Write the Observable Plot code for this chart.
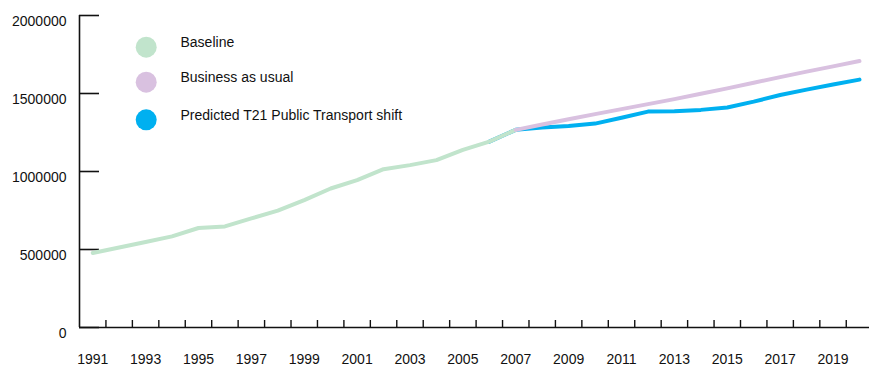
<!DOCTYPE html>
<html><head><meta charset="utf-8">
<script src="https://cdn.jsdelivr.net/npm/d3@7"></script>
<script src="https://cdn.jsdelivr.net/npm/@observablehq/plot@0.6"></script>
<style>body{margin:0;background:#fff}</style>
</head><body><div id="chart"></div>
<script>
const baselineYears = d3.range(1991, 2008);
const baselineValues = [478000, 513000, 548000, 584000, 638000, 648000, 699000, 749000, 817000, 891000, 945000, 1015000, 1041000, 1073000, 1139000, 1192000, 1267000];
const bauYears = d3.range(2007, 2021);
const bauValues = [1267000, 1301000, 1335000, 1368000, 1400000, 1432000, 1464000, 1498000, 1533000, 1569000, 1605000, 1640000, 1674000, 1708000];
const shiftYears = d3.range(2006, 2021);
const shiftValues = [1192000, 1267000, 1282000, 1292000, 1307000, 1345000, 1384000, 1386000, 1395000, 1410000, 1448000, 1490000, 1525000, 1558000, 1589000];
const yTicks = [0, 500000, 1000000, 1500000, 2000000];
const xLabelYears = d3.range(1991, 2020, 2);
const xTickBounds = d3.range(1991.5, 2020, 1);
const seriesNames = ["Baseline", "Business as usual", "Predicted T21 Public Transport shift"];
const seriesColors = ["#c1e4cc", "#d9c1e0", "#00b0f0"];

const toRows = (years, values) => years.map((year, i) => ({year, value: values[i]}));
const baseline = toRows(baselineYears, baselineValues);
const bau = toRows(bauYears, bauValues);
const shift = toRows(shiftYears, shiftValues);

const font = "Liberation Sans, Arial, sans-serif";
const fs = 14;
const legendDotY = [31.7, 66.7, 104.3];
const legendTextY = [27.3, 62.3, 100];

const legendMarks = seriesNames.flatMap((name, i) => [
  Plot.dot([name], {frameAnchor: "top-left", dx: 66.7, dy: legendDotY[i], r: 10.5, fill: seriesColors[i], stroke: "none"}),
  Plot.text([name], {frameAnchor: "top-left", dx: 101, dy: legendTextY[i], text: d => d, textAnchor: "start", lineAnchor: "middle", fontSize: fs, fill: "#111"})
]);

const chart = Plot.plot({
  width: 869,
  height: 367,
  marginLeft: 79,
  marginRight: 0,
  marginTop: 15,
  marginBottom: 40,
  style: {fontFamily: font, fontSize: fs + "px", background: "#fff", color: "#111"},
  x: {type: "linear", domain: [1990.5, 2020.5], range: [79, 872.2]},
  y: {domain: [0, 2000000]},
  marks: [
    Plot.axisY(yTicks, {tickSize: 0, tickPadding: 13, dy: 6.3, tickFormat: d => String(d), fontSize: fs, label: null, fill: "#111"}),
    Plot.axisY(yTicks, {tickSize: -20, tickFormat: () => "", label: null, strokeWidth: 1.6, stroke: "#111"}),
    Plot.axisX(xTickBounds, {tickSize: -7, tickFormat: () => "", label: null, strokeWidth: 1.4, stroke: "#111"}),
    Plot.axisX(xLabelYears, {tickSize: 0, tickPadding: 27, tickFormat: d => String(d), label: null, fontSize: fs, fill: "#111"}),
    Plot.ruleX([1990.5], {stroke: "#111", strokeWidth: 1.6}),
    Plot.ruleY([0], {stroke: "#111", strokeWidth: 1.6}),
    Plot.lineY(shift, {x: "year", y: "value", stroke: seriesColors[2], strokeWidth: 4}),
    Plot.lineY(baseline, {x: "year", y: "value", stroke: seriesColors[0], strokeWidth: 4}),
    Plot.lineY(bau, {x: "year", y: "value", stroke: seriesColors[1], strokeWidth: 4}),
    ...legendMarks
  ]
});
document.getElementById("chart").append(chart);
</script>
</body></html>
